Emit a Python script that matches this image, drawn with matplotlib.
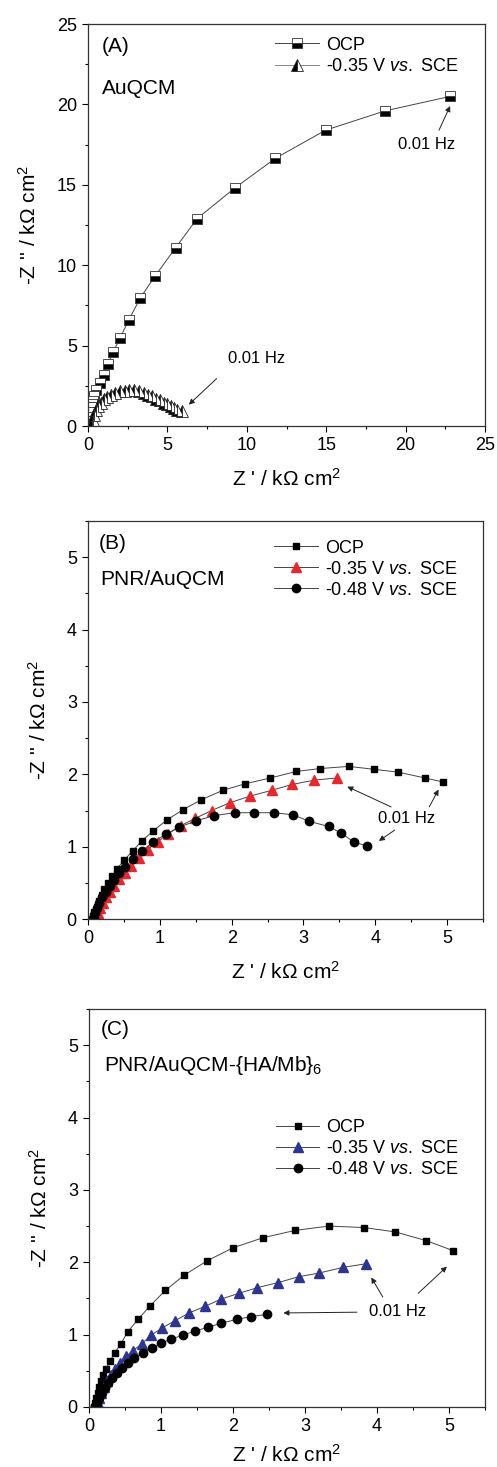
import matplotlib
matplotlib.use("Agg")
import matplotlib.pyplot as plt
from matplotlib.ticker import MultipleLocator

plt.rcParams['font.family'] = ['Liberation Sans', 'DejaVu Sans']
plt.rcParams['mathtext.fontset'] = 'custom'
plt.rcParams['mathtext.rm'] = 'Liberation Sans'
plt.rcParams['mathtext.it'] = 'Liberation Sans:italic'
plt.rcParams['mathtext.default'] = 'regular'

# ---- panel A : AuQCM ----
a_ocp_x = [0.05, 0.08, 0.11, 0.15, 0.19, 0.24, 0.29, 0.36, 0.53, 0.74, 0.99, 1.26, 1.58, 2.04,
           2.56, 3.30, 4.24, 5.53, 6.87, 9.24, 11.8, 14.96, 18.7, 22.8]
a_ocp_y = [0.05, 0.3, 0.6, 0.9, 1.2, 1.5, 1.7, 1.85, 2.22, 2.68, 3.2, 3.84, 4.6, 5.5,
           6.58, 7.97, 9.35, 11.1, 12.9, 14.8, 16.65, 18.4, 19.6, 20.5]
a_035_x = [0.25, 0.3, 0.4, 0.5, 0.65, 0.8, 1.0, 1.2, 1.45, 1.7, 2.0, 2.3, 2.6, 2.9, 3.2, 3.5,
           3.8, 4.05, 4.3, 4.55, 4.8, 5.0, 5.2, 5.4, 5.6, 5.9]
a_035_y = [0.1, 0.4, 0.7, 1.0, 1.25, 1.45, 1.65, 1.8, 1.95, 2.05, 2.15, 2.2, 2.25, 2.22, 2.15,
           2.05, 1.95, 1.85, 1.7, 1.6, 1.45, 1.35, 1.25, 1.1, 1.0, 0.92]

# ---- panel B : PNR/AuQCM ----
b_ocp_x = [0.05, 0.07, 0.09, 0.12, 0.15, 0.19, 0.23, 0.28, 0.34, 0.40, 0.50, 0.62, 0.75, 0.91,
           1.10, 1.32, 1.58, 1.88, 2.19, 2.54, 2.90, 3.23, 3.63, 3.98, 4.32, 4.69, 4.94]
b_ocp_y = [0.0, 0.04, 0.1, 0.17, 0.25, 0.33, 0.41, 0.5, 0.59, 0.69, 0.81, 0.94, 1.08, 1.22,
           1.37, 1.51, 1.65, 1.78, 1.87, 1.95, 2.04, 2.08, 2.11, 2.07, 2.03, 1.95, 1.895]
b_035_x = [0.12, 0.14, 0.17, 0.21, 0.25, 0.30, 0.36, 0.43, 0.51, 0.60, 0.71, 0.83, 0.97, 1.12,
           1.29, 1.49, 1.72, 1.98, 2.26, 2.56, 2.84, 3.15, 3.46]
b_035_y = [0.02, 0.08, 0.15, 0.22, 0.30, 0.38, 0.46, 0.55, 0.64, 0.74, 0.85, 0.96, 1.07, 1.18,
           1.29, 1.39, 1.50, 1.61, 1.70, 1.78, 1.86, 1.92, 1.95]
b_048_x = [0.08, 0.10, 0.13, 0.16, 0.20, 0.25, 0.30, 0.36, 0.43, 0.52, 0.63, 0.75, 0.90, 1.08,
           1.27, 1.51, 1.76, 2.04, 2.31, 2.59, 2.86, 3.08, 3.35, 3.52, 3.71, 3.89]
b_048_y = [0.02, 0.08, 0.15, 0.22, 0.30, 0.38, 0.46, 0.54, 0.63, 0.72, 0.83, 0.94, 1.06, 1.17,
           1.27, 1.36, 1.43, 1.47, 1.47, 1.47, 1.44, 1.35, 1.28, 1.19, 1.06, 1.01]

# ---- panel C : PNR/AuQCM-{HA/Mb}6 ----
c_ocp_x = [0.07, 0.08, 0.10, 0.12, 0.14, 0.17, 0.20, 0.24, 0.29, 0.36, 0.44, 0.54, 0.68, 0.85,
           1.06, 1.32, 1.64, 2.00, 2.42, 2.86, 3.33, 3.82, 4.25, 4.68, 5.06]
c_ocp_y = [0.0, 0.05, 0.12, 0.20, 0.28, 0.36, 0.44, 0.53, 0.63, 0.75, 0.87, 1.04, 1.21, 1.40,
           1.61, 1.82, 2.02, 2.20, 2.34, 2.44, 2.50, 2.48, 2.42, 2.30, 2.16]
c_035_x = [0.12, 0.14, 0.17, 0.21, 0.25, 0.30, 0.36, 0.43, 0.52, 0.61, 0.73, 0.86, 1.01, 1.19,
           1.39, 1.61, 1.83, 2.08, 2.34, 2.63, 2.91, 3.19, 3.53, 3.85]
c_035_y = [0.05, 0.12, 0.20, 0.28, 0.36, 0.44, 0.52, 0.61, 0.70, 0.78, 0.87, 0.99, 1.09, 1.19,
           1.30, 1.39, 1.49, 1.57, 1.65, 1.72, 1.80, 1.85, 1.93, 1.98]
c_048_x = [0.09, 0.11, 0.14, 0.18, 0.22, 0.27, 0.32, 0.39, 0.46, 0.54, 0.63, 0.75, 0.87, 1.00,
           1.14, 1.30, 1.47, 1.65, 1.84, 2.05, 2.25, 2.47]
c_048_y = [0.01, 0.05, 0.12, 0.19, 0.26, 0.33, 0.40, 0.47, 0.54, 0.61, 0.68, 0.75, 0.81, 0.88,
           0.94, 0.99, 1.05, 1.10, 1.16, 1.21, 1.25, 1.28]

labels = ['OCP', r'-0.35 V $\mathit{vs.}$ SCE', r'-0.48 V $\mathit{vs.}$ SCE']
red = '#e8262b'
blue = '#2c3590'
line_c = '#444444'

fig = plt.figure(figsize=(4.97, 14.67), dpi=100)
axA = fig.add_axes([0.177, 0.7096, 0.799, 0.274])
axB = fig.add_axes([0.177, 0.3735, 0.795, 0.2713])
axC = fig.add_axes([0.179, 0.0409, 0.797, 0.2713])


def style(ax, lim, major, minor, xpad=10):
    ax.set_xlim(0, lim)
    ax.set_ylim(0, lim)
    ax.xaxis.set_major_locator(MultipleLocator(major))
    ax.yaxis.set_major_locator(MultipleLocator(major))
    ax.xaxis.set_minor_locator(MultipleLocator(minor))
    ax.yaxis.set_minor_locator(MultipleLocator(minor))
    ax.tick_params(which='both', direction='out', top=False, right=False, labelsize=13)
    ax.tick_params(which='major', length=4, width=0.8, pad=4)
    ax.tick_params(which='minor', length=2.5, width=0.8)
    for s in ax.spines.values():
        s.set_linewidth(0.9)
        s.set_color('#333333')
    ax.set_xlabel(r"Z ' / k$\Omega$ cm$^2$", fontsize=15, labelpad=xpad)
    ax.set_ylabel(r"-Z '' / k$\Omega$ cm$^2$", fontsize=15, labelpad=12)


def arrow(ax, start, end):
    ax.annotate('', xy=end, xytext=start,
                arrowprops=dict(arrowstyle='-|>', color='#222222', lw=0.7,
                                mutation_scale=8, shrinkA=0, shrinkB=0))


# panel A
axA.plot(a_ocp_x, a_ocp_y, '-', color=line_c, lw=0.7, marker='s', ms=7,
         mfc='black', mfcalt='white', fillstyle='bottom', mec='#333333', mew=0.6,
         label=labels[0])
axA.plot(a_035_x, a_035_y, '-', color='#888888', lw=0.7, marker='^', ms=8,
         mfc='black', mfcalt='white', fillstyle='left', mec='#222222', mew=0.6,
         label=labels[1])
style(axA, 25, 5, 2.5)
axA.text(0.034, 0.944, '(A)', transform=axA.transAxes, fontsize=15, va='center')
axA.text(0.034, 0.84, 'AuQCM', transform=axA.transAxes, fontsize=15, va='center')
axA.text(19.5, 17.5, '0.01 Hz', fontsize=12, va='center')
arrow(axA, (22.1, 18.4), (22.8, 19.9))
axA.text(8.8, 4.2, '0.01 Hz', fontsize=12, va='center')
arrow(axA, (8.1, 2.95), (6.35, 1.33))
axA.legend(loc='upper left', bbox_to_anchor=(0.44, 1.0), frameon=False, fontsize=13,
           handlelength=2.4, handletextpad=0.4, labelspacing=0.25, borderaxespad=0.3)

# panel B
axB.plot(b_ocp_x, b_ocp_y, '-', color=line_c, lw=0.7, marker='s', ms=5,
         mfc='black', mec='black', label=labels[0])
axB.plot(b_035_x, b_035_y, '-', color=line_c, lw=0.7, marker='^', ms=6.5,
         mfc=red, mec=red, label=labels[1])
axB.plot(b_048_x, b_048_y, '-', color=line_c, lw=0.7, marker='o', ms=6,
         mfc='black', mec='black', label=labels[2])
style(axB, 5.5, 1, 0.5)
axB.text(0.027, 0.944, '(B)', transform=axB.transAxes, fontsize=15, va='center')
axB.text(0.031, 0.852, 'PNR/AuQCM', transform=axB.transAxes, fontsize=15, va='center')
axB.text(4.04, 1.39, '0.01 Hz', fontsize=12, va='center')
arrow(axB, (4.22, 1.55), (3.61, 1.83))
arrow(axB, (4.75, 1.55), (4.88, 1.79))
arrow(axB, (4.27, 1.23), (4.05, 1.08))
axB.legend(loc='upper left', bbox_to_anchor=(0.44, 0.985), frameon=False, fontsize=13,
           handlelength=2.4, handletextpad=0.4, labelspacing=0.22, borderaxespad=0.3)

# panel C
axC.plot(c_ocp_x, c_ocp_y, '-', color=line_c, lw=0.7, marker='s', ms=5,
         mfc='black', mec='black', label=labels[0])
axC.plot(c_035_x, c_035_y, '-', color=line_c, lw=0.7, marker='^', ms=6.5,
         mfc=blue, mec=blue, label=labels[1])
axC.plot(c_048_x, c_048_y, '-', color=line_c, lw=0.7, marker='o', ms=6,
         mfc='black', mec='black', label=labels[2])
style(axC, 5.5, 1, 0.5, xpad=6)
axC.text(0.03, 0.949, '(C)', transform=axC.transAxes, fontsize=15, va='center')
axC.text(0.039, 0.857, r'PNR/AuQCM-{HA/Mb}$_6$', transform=axC.transAxes, fontsize=15,
         va='center')
axC.text(3.89, 1.32, '0.01 Hz', fontsize=12, va='center')
arrow(axC, (3.72, 1.31), (2.70, 1.30))
arrow(axC, (4.08, 1.52), (3.92, 1.79))
arrow(axC, (4.57, 1.57), (4.97, 1.94))
axC.legend(loc='upper left', bbox_to_anchor=(0.44, 0.755), frameon=False, fontsize=13,
           handlelength=2.4, handletextpad=0.4, labelspacing=0.22, borderaxespad=0.3)

fig.savefig('out.png', dpi=100)
